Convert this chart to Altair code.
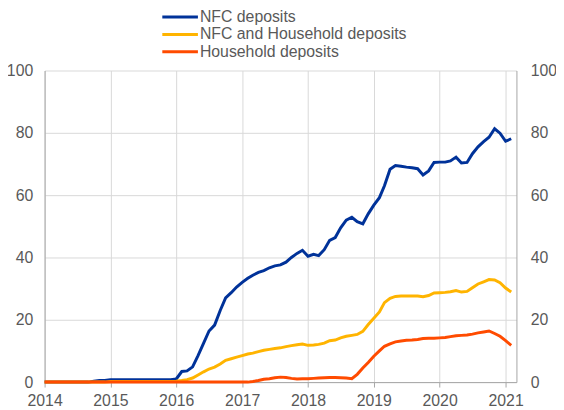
import altair as alt
import pandas as pd

nfc = [0, 0, 0, 0, 0, 0, 0, 0, 0, 0.3, 0.5, 0.5,
       0.8, 0.8, 0.8, 0.8, 0.8, 0.8, 0.8, 0.8, 0.8, 0.8, 0.8, 0.8,
       1.0, 3.4, 3.6, 4.9, 8.5, 12.5, 16.4, 18.3, 23.0, 27.0, 28.7, 30.5,
       32.0, 33.3, 34.3, 35.2, 35.8, 36.7, 37.3, 37.6, 38.5, 40.0, 41.3, 42.3,
       40.4, 41.0, 40.6, 42.5, 45.5, 46.4, 49.5, 52.0, 52.9, 51.5, 50.8, 54.0,
       56.8, 59.2, 63.0, 68.3, 69.5, 69.3, 69.0, 68.8, 68.5, 66.5, 67.8, 70.5,
       70.6, 70.6, 71.0, 72.2, 70.3, 70.5, 73.3, 75.5, 77.2, 78.6, 81.3, 79.9,
       77.3, 78.1]
both = [0, 0, 0, 0, 0, 0, 0, 0, 0, 0, 0, 0,
        0.2, 0.2, 0.2, 0.2, 0.2, 0.2, 0.2, 0.2, 0.2, 0.2, 0.2, 0.2,
        0.3, 0.5, 0.8, 1.3, 2.3, 3.3, 4.2, 4.8, 5.8, 7.0, 7.5, 8.0,
        8.5, 9.0, 9.3, 9.8, 10.2, 10.5, 10.8, 11.0, 11.4, 11.7, 12.0, 12.2,
        11.8, 11.9, 12.1, 12.5, 13.3, 13.5, 14.2, 14.7, 15.0, 15.3, 16.3, 18.5,
        20.5, 22.5, 25.5, 26.9, 27.5, 27.6, 27.6, 27.6, 27.6, 27.4, 27.8, 28.6,
        28.7, 28.8, 29.0, 29.4, 28.9, 29.1, 30.3, 31.5, 32.2, 32.9, 32.8, 31.9,
        30.2, 28.9]
hh = [0] * 38 + [
    0.2, 0.5, 0.9, 1.1, 1.4, 1.6, 1.5, 1.2, 1.0, 1.1,
    1.1, 1.2, 1.3, 1.4, 1.5, 1.5, 1.4, 1.3, 1.1, 2.5, 4.5, 6.3,
    8.3, 10.0, 11.5, 12.3, 12.9, 13.2, 13.4, 13.5, 13.7, 14.0, 14.1, 14.1,
    14.2, 14.3, 14.6, 14.9, 15.0, 15.1, 15.4, 15.8, 16.1, 16.4, 15.6, 14.7,
    13.3, 11.8]

series_names = ["NFC deposits", "NFC and Household deposits", "Household deposits"]
series_colors = ["#003299", "#FFB400", "#FF4B00"]
year_ticks = [f"{y}-01-01" for y in range(2014, 2022)]

dates = pd.date_range("2014-01-01", periods=len(nfc), freq="MS")
rows = []
for name, vals in zip(series_names, [nfc, both, hh]):
    for d, v in zip(dates, vals):
        rows.append({"date": d, "value": v, "series": name})
df = pd.DataFrame(rows)

FONT = "Liberation Sans"
GRAY = "#595959"

xscale = alt.Scale(domain=["2014-01-01", "2021-03-02"])
yscale = alt.Scale(domain=[0, 100])

x_enc = alt.X("date:T", scale=xscale,
              axis=alt.Axis(values=year_ticks, format="%Y", title=None,
                            grid=True, gridColor="#d9d9d9", domainColor="#a6a6a6",
                            tickColor="#a6a6a6", tickSize=5, labelFontSize=16,
                            labelColor=GRAY, labelFont=FONT, labelPadding=6,
                            labelFlush=False))

lines = alt.Chart(df).mark_line(strokeWidth=3).encode(
    x=x_enc,
    y=alt.Y("value:Q", scale=yscale,
            axis=alt.Axis(values=[0, 20, 40, 60, 80, 100], title=None, orient="left",
                          grid=True, gridColor="#d9d9d9", domainColor="#a6a6a6",
                          ticks=False, labelFontSize=16, labelColor=GRAY,
                          labelFont=FONT, labelPadding=12)),
    color=alt.Color("series:N",
                    scale=alt.Scale(domain=series_names, range=series_colors),
                    legend=alt.Legend(title=None, orient="none", legendX=129, legendY=-62,
                                      symbolType="M-3,0H3", symbolSize=144,
                                      symbolStrokeWidth=3, labelFontSize=16,
                                      labelFont=FONT, labelColor=GRAY, labelLimit=400,
                                      labelOffset=12, rowPadding=1.5)),
)

right = alt.Chart(df).mark_line(opacity=0).encode(
    x=alt.X("date:T", scale=xscale),
    y=alt.Y("value:Q", scale=yscale,
            axis=alt.Axis(values=[0, 20, 40, 60, 80, 100], title=None, orient="right",
                          grid=False, domainColor="#a6a6a6", ticks=False,
                          labelFontSize=16, labelColor=GRAY, labelFont=FONT,
                          labelPadding=14)),
)

chart = alt.layer(lines, right).resolve_axis(y="independent").properties(
    width=477, height=315,
    autosize=alt.AutoSizeParams(type="none"),
    padding={"left": 37, "top": 61, "right": 40, "bottom": 26},
).configure_view(stroke=None)

chart.save("out.html", embed_options={"renderer": "svg", "actions": False})
